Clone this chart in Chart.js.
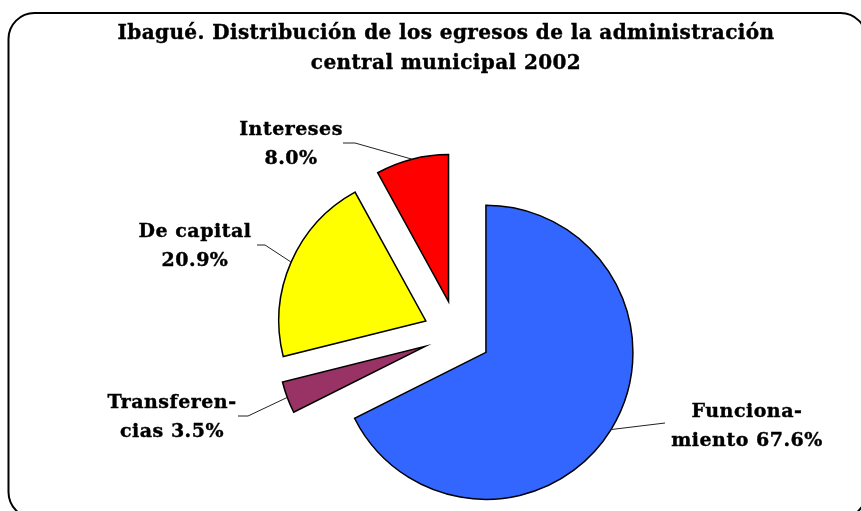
<!DOCTYPE html>
<html>
<head>
<meta charset="utf-8">
<script src="https://cdn.jsdelivr.net/npm/chart.js@4.4.0/dist/chart.umd.min.js"></script>
<style>
  html, body { margin: 0; padding: 0; background: #ffffff; }
  #wrap { position: relative; width: 861px; height: 511px; }
  canvas { display: block; }
</style>
</head>
<body>
<div id="wrap"><canvas id="chart" width="861" height="511"></canvas></div>
<script>
// ---- data ----
const titleLines = ['Ibagué. Distribución de los egresos de la administración', 'central municipal 2002'];
const categories = ['Funcionamiento', 'Transferencias', 'De capital', 'Intereses'];
const shares = [67.6, 3.5, 20.9, 8.0];
// label text split as in the original (value appended to second line)
const labelFirstLine = ['Funciona-', 'Transferen-', 'De capital', 'Intereses'];
const labelSecondPrefix = ['miento ', 'cias ', '', ''];

// ---- styles ----
const sliceColors = ['#3366FF', '#993366', '#FFFF00', '#FF0000'];
const explodeDist = 34;
const labelFont = 'bold 19px "DejaVu Serif"';
const labelSpacing = '0.5px';
const titleFont = 'bold 20px "DejaVu Serif"';
const titleSpacing = '0.4px';
// label centre x / first baseline y, leader knee and leader end (label side)
const labelPlace = [
  { x: 747, y: 417, knee: [665, 423], end: [665, 423] },
  { x: 172, y: 408, knee: [248, 416], end: [238, 416] },
  { x: 195, y: 237, knee: [265, 245], end: [257, 245] },
  { x: 291, y: 135, knee: [355, 143], end: [343, 143] }
];
const labelLineGap = 29;

const explodePlugin = {
  id: 'explode',
  afterDatasetUpdate(chart, args) {
    args.meta.data.forEach(arc => {
      const mid = (arc.startAngle + arc.endAngle) / 2;
      arc.x += explodeDist * Math.cos(mid);
      arc.y += explodeDist * Math.sin(mid);
    });
  }
};

const framePlugin = {
  id: 'frame',
  beforeDraw(chart) {
    const ctx = chart.ctx;
    ctx.save();
    ctx.fillStyle = '#ffffff';
    ctx.fillRect(0, 0, chart.width, chart.height);
    ctx.beginPath();
    ctx.roundRect(8.5, 13, 858, 505, 26);
    ctx.lineWidth = 2;
    ctx.strokeStyle = '#000000';
    ctx.stroke();
    ctx.restore();
  }
};

function boldText(ctx, text, x, y) {
  ctx.fillText(text, x, y);
  ctx.strokeText(text, x, y);
}

const labelPlugin = {
  id: 'sliceLabels',
  afterDraw(chart) {
    const ctx = chart.ctx;
    ctx.save();
    // title
    ctx.font = titleFont;
    ctx.letterSpacing = titleSpacing;
    ctx.fillStyle = '#000000';
    ctx.strokeStyle = '#000000';
    ctx.lineWidth = 0.4;
    ctx.textAlign = 'center';
    ctx.textBaseline = 'alphabetic';
    titleLines.forEach((t, i) => boldText(ctx, t, 446, 39 + i * 30));

    const meta = chart.getDatasetMeta(0);
    meta.data.forEach((arc, i) => {
      const mid = (arc.startAngle + arc.endAngle) / 2;
      const ax = arc.x + arc.outerRadius * Math.cos(mid);
      const ay = arc.y + arc.outerRadius * Math.sin(mid);
      const p = labelPlace[i];
      ctx.beginPath();
      ctx.moveTo(ax, ay);
      ctx.lineTo(p.knee[0], p.knee[1]);
      ctx.lineTo(p.end[0], p.end[1]);
      ctx.lineWidth = 1;
      ctx.strokeStyle = '#222222';
      ctx.stroke();

      ctx.font = labelFont;
      ctx.letterSpacing = labelSpacing;
      ctx.fillStyle = '#000000';
      ctx.strokeStyle = '#000000';
      ctx.lineWidth = 0.4;
      ctx.textAlign = 'center';
      const val = chart.data.datasets[0].data[i].toFixed(1) + '%';
      boldText(ctx, labelFirstLine[i], p.x, p.y);
      boldText(ctx, labelSecondPrefix[i] + val, p.x, p.y + labelLineGap);
    });
    ctx.restore();
  }
};

new Chart(document.getElementById('chart'), {
  type: 'pie',
  data: {
    labels: categories,
    datasets: [{
      data: shares,
      backgroundColor: sliceColors,
      borderColor: '#000000',
      borderWidth: 1.5,
      borderJoinStyle: 'miter'
    }]
  },
  options: {
    responsive: false,
    animation: false,
    radius: 147,
    layout: { padding: { left: 60, right: 7, top: 160, bottom: 2 } },
    plugins: {
      legend: { display: false },
      title: { display: false },
      tooltip: { enabled: false }
    }
  },
  plugins: [framePlugin, explodePlugin, labelPlugin]
});
</script>
</body>
</html>
